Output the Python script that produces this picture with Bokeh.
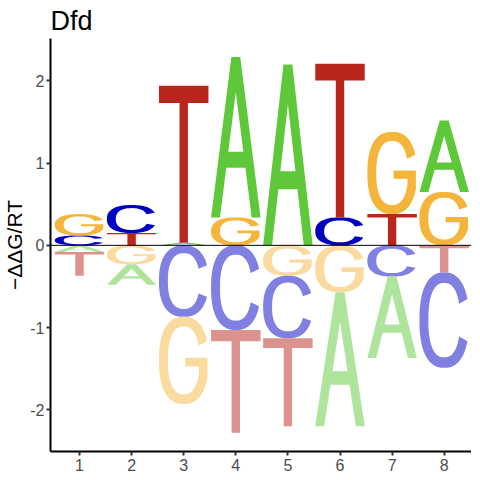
import numpy as np
from bokeh.plotting import figure
from bokeh.models import Range1d, FixedTicker, Span
from bokeh.embed import file_html
from bokeh.resources import INLINE

# ---- data ----
positions = [1, 2, 3, 4, 5, 6, 7, 8]
x_tick_labels = ["1", "2", "3", "4", "5", "6", "7", "8"]
val_A = [-0.08, -0.25, 0.03, 1.95, 2.20, -1.63, -0.99, 0.87]
val_C = [0.12, 0.34, -0.87, -1.03, -0.76, 0.34, -0.38, -1.16]
val_G = [0.26, -0.23, -1.06, 0.34, -0.37, -0.57, 1.00, 0.65]
val_T = [-0.29, 0.15, 1.91, -1.25, -1.07, 1.87, 0.38, -0.33]
y_ticks = [-2, -1, 0, 1, 2]
y_tick_labels = ["-2", "-1", "0", "1", "2"]
title_text = "Dfd"
y_label = "\u2212\u0394\u0394G/RT"

letters = ["A", "C", "G", "T"]
values = {"A": val_A, "C": val_C, "G": val_G, "T": val_T}
color_up = {"A": "#5ec83a", "C": "#0000c0", "G": "#f5b43c", "T": "#b8261c"}


def lighten(hexc, a=0.5):
    r, g, b = int(hexc[1:3], 16), int(hexc[3:5], 16), int(hexc[5:7], 16)
    f = lambda c: int(round(c * a + 255 * (1 - a)))
    return "#%02x%02x%02x" % (f(r), f(g), f(b))


color_down = {k: lighten(v) for k, v in color_up.items()}

# ---- letter outlines in a unit box ----
def se_pt(theta_deg, rx, ry, n=2.4):
    t = np.radians(theta_deg)
    c, s = np.cos(t), np.sin(t)
    x = 0.5 + rx * np.sign(c) * np.abs(c) ** (2.0 / n)
    y = 0.5 + ry * np.sign(s) * np.abs(s) ** (2.0 / n)
    return x, y


RX_IN, RY_IN = 0.32, 0.39


def shape_C():
    a = 22
    th_o = np.linspace(a, 360 - a, 80)
    th_i = th_o[::-1]
    xo, yo = se_pt(th_o, 0.5, 0.5)
    xi, yi = se_pt(th_i, RX_IN, RY_IN)
    return [(list(xo) + list(xi), list(yo) + list(yi))]


def shape_G():
    a = 22
    th_o = np.linspace(a, 330, 80)
    xo, yo = se_pt(th_o, 0.5, 0.5)
    xs_in = 0.81
    cpow = ((xs_in - 0.5) / RX_IN) ** 1.2
    th_start = 360 - np.degrees(np.arccos(cpow))
    th_i = np.linspace(th_start, a, 80)
    xi, yi = se_pt(th_i, RX_IN, RY_IN)
    mx = [0.98, 0.98, 0.53, 0.53, xs_in]
    my = [0.30, 0.53, 0.53, 0.43, 0.43]
    return [(list(xo) + mx + list(xi), list(yo) + my + list(yi))]


def shape_T():
    sw, bh = 0.17, 0.11
    l, r = 0.5 - sw / 2, 0.5 + sw / 2
    xs = [0, 1, 1, r, r, l, l, 0]
    ys = [1, 1, 1 - bh, 1 - bh, 0, 0, 1 - bh, 1 - bh]
    return [(xs, ys)]


def shape_A():
    xo = [0, 0.41, 0.59, 1, 0.82, 0.693, 0.307, 0.18]
    yo = [0, 1, 1, 0, 0, 0.31, 0.31, 0]
    xh = [0.348, 0.5, 0.652]
    yh = [0.41, 0.78, 0.41]
    return [(xo, yo), (xh, yh)]


shapes = {"A": shape_A(), "C": shape_C(), "G": shape_G(), "T": shape_T()}
LW = 0.95

xs_all, ys_all, fills = [], [], []
for i, pos in enumerate(positions):
    ups = sorted([(values[L][i], L) for L in letters if values[L][i] > 0])
    downs = sorted([(-values[L][i], L) for L in letters if values[L][i] < 0])
    base = 0.0
    for h, L in ups:
        y0, y1 = base, base + h
        base = y1
        rings_x, rings_y = [], []
        for (ux, uy) in shapes[L]:
            rings_x.append([pos + (u - 0.5) * LW for u in ux])
            rings_y.append([y0 + v * (y1 - y0) for v in uy])
        xs_all.append([rings_x]); ys_all.append([rings_y]); fills.append(color_up[L])
    base = 0.0
    for h, L in downs:
        y0, y1 = base - h, base
        base = y0
        rings_x, rings_y = [], []
        for (ux, uy) in shapes[L]:
            rings_x.append([pos + (u - 0.5) * LW for u in ux])
            rings_y.append([y0 + v * (y1 - y0) for v in uy])
        xs_all.append([rings_x]); ys_all.append([rings_y]); fills.append(color_down[L])

p = figure(
    output_backend="svg", toolbar_location=None,
    frame_width=421, frame_height=413,
    x_range=Range1d(0.443, 8.524), y_range=Range1d(-2.508, 2.516),
    min_border_left=43, min_border_right=0, min_border_top=34, min_border_bottom=20,
)
p.multi_polygons(xs=xs_all, ys=ys_all, fill_color=fills, line_color=None)
p.add_layout(Span(location=0, dimension="width", line_color="black", line_width=1, level="overlay"))

p.xgrid.visible = False
p.ygrid.visible = False
p.outline_line_color = None
p.background_fill_color = "white"
p.border_fill_color = "white"

for ax in (p.xaxis, p.yaxis):
    ax.axis_line_color = "black"
    ax.axis_line_width = 2
    ax.major_tick_line_color = "#333333"
    ax.major_tick_line_width = 2
    ax.major_tick_out = 4
    ax.major_tick_in = 0
    ax.minor_tick_line_color = None
    ax.major_label_text_color = "#4d4d4d"
    ax.major_label_text_font = "Liberation Sans"
    ax.major_label_text_font_size = "16px"
    ax.major_label_standoff = 3
p.yaxis.major_label_standoff = 2

p.xaxis.ticker = FixedTicker(ticks=positions)
p.xaxis.major_label_overrides = dict(zip(positions, x_tick_labels))
p.yaxis.ticker = FixedTicker(ticks=y_ticks)
p.yaxis.major_label_overrides = dict(zip(y_ticks, y_tick_labels))
p.yaxis.axis_label = y_label
p.yaxis.axis_label_text_font = "Liberation Sans"
p.yaxis.axis_label_text_font_size = "21px"
p.yaxis.axis_label_text_font_style = "normal"
p.yaxis.axis_label_text_color = "black"
p.yaxis.axis_label_standoff = 1

p.title.text = title_text
p.title.text_font = "Liberation Sans"
p.title.text_font_size = "27px"
p.title.text_font_style = "normal"
p.title.text_color = "black"
p.title.align = "left"
p.title.standoff = 6
p.title.offset = 0

open("out.html", "w").write(file_html(p, INLINE))
